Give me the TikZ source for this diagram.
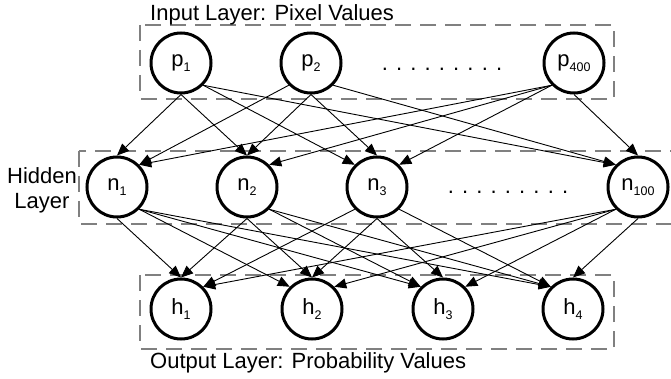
\documentclass[tikz,border=0pt]{standalone}
\usepackage{fontspec}
\setmainfont{Liberation Sans}
\usetikzlibrary{arrows.meta}

% lowered small index for neuron names
\newcommand{\nidx}[1]{\raisebox{-5.5pt}{\fontsize{12.5}{13}\selectfont #1}}

\begin{document}
\begin{tikzpicture}[
    x=1pt, y=-1pt,
    font=\fontsize{22}{25}\selectfont,
    neuron/.style={
        circle,
        draw=black,
        line width=3pt,
        minimum size=60pt,
        inner sep=0pt,
        fill=white
    },
    layerbox/.style={draw=black!50, line width=1.4pt, dash pattern=on 16pt off 9pt},
    conn/.style={-{Triangle[length=12pt,width=10pt]}, line width=0.9pt, draw=black},
    layertitle/.style={inner sep=0pt, anchor=base west},
    gapdots/.style={inner sep=0pt, anchor=base}
]
\useasboundingbox (0,0) rectangle (671,379);

% =========================================================
% Layer boxes
% =========================================================
\draw[layerbox] (140,25) rectangle (614,99);
\draw[layerbox] (79,151) rectangle (672,224);
\draw[layerbox] (140,275) rectangle (614,349);

\node[layertitle] (intitle) at (150,21) {Input Layer: Pixel Values};
\node[align=center, inner sep=0pt] (hidtitle) at (42,190) {Hidden\\Layer};
\node[layertitle] (outtitle) at (150,368) {Output Layer: Probability Values};

% =========================================================
% Neurons
% =========================================================
% Input layer
\node[neuron] (p1) at (181,63) {p\nidx{1}};
\node[neuron] (p2) at (311,63) {p\nidx{2}};
\node[gapdots] (pdots) at (442,71) {. . . . . . . . .};
\node[neuron] (p400) at (574,63) {p\nidx{400}};

% Hidden layer
\node[neuron] (n1) at (117,187) {n\nidx{1}};
\node[neuron] (n2) at (247,187) {n\nidx{2}};
\node[neuron] (n3) at (377,187) {n\nidx{3}};
\node[gapdots] (ndots) at (508,194) {. . . . . . . . .};
\node[neuron] (n100) at (638,187) {n\nidx{100}};

% Output layer
\node[neuron] (h1) at (181,309) {h\nidx{1}};
\node[neuron] (h2) at (312,309) {h\nidx{2}};
\node[neuron] (h3) at (443,309) {h\nidx{3}};
\node[neuron] (h4) at (573,309) {h\nidx{4}};

% =========================================================
% Input -> hidden
% =========================================================
\draw[conn] (p1.south) -- (n1.north);
\draw[conn] (p1.south) -- (n2.north);
\draw[conn] (p1.south east) -- (n3.north west);
\draw[conn] (p1.south east) -- (n100.north west);

\draw[conn] (p2.south west) -- (n1.north east);
\draw[conn] (p2.south) -- (n2.north);
\draw[conn] (p2.south) -- (n3.north);
\draw[conn] (p2.south east) -- (n100.north west);

\draw[conn] (p400.south west) -- (n1.north east);
\draw[conn] (p400.south west) -- (n2.north east);
\draw[conn] (p400.south west) -- (n3.north east);
\draw[conn] (p400.south) -- (n100.north);

% =========================================================
% Hidden -> output
% =========================================================
\draw[conn] (n1.south) -- (h1.north);
\draw[conn] (n1.south east) -- (h2.north west);
\draw[conn] (n1.south east) -- (h3.north west);
\draw[conn] (n1.south east) -- (h4.north west);

\draw[conn] (n2.south) -- (h1.north);
\draw[conn] (n2.south) -- (h2.north);
\draw[conn] (n2.south east) -- (h3.north west);
\draw[conn] (n2.south east) -- (h4.north west);

\draw[conn] (n3.south west) -- (h1.north east);
\draw[conn] (n3.south) -- (h2.north);
\draw[conn] (n3.south) -- (h3.north);
\draw[conn] (n3.south east) -- (h4.north west);

\draw[conn] (n100.south west) -- (h1.north east);
\draw[conn] (n100.south west) -- (h2.north east);
\draw[conn] (n100.south west) -- (h3.north east);
\draw[conn] (n100.south) -- (h4.north);

\end{tikzpicture}
\end{document}
